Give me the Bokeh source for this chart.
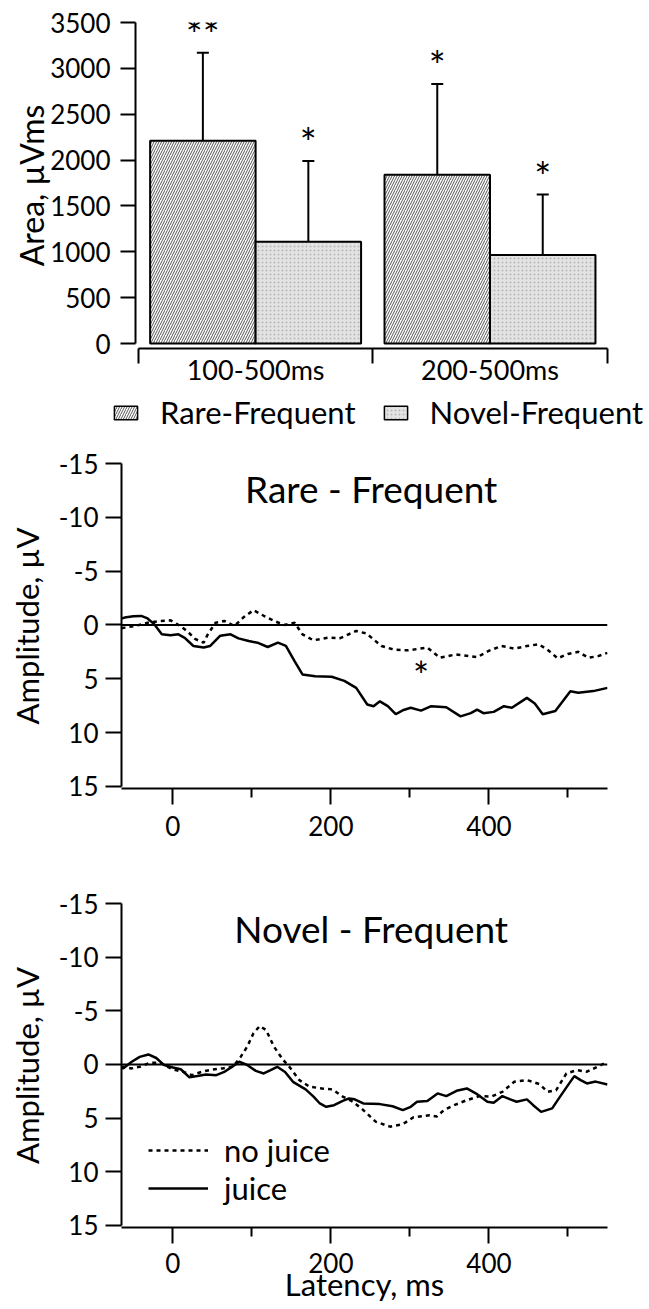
import numpy as np
from bokeh.plotting import figure
from bokeh.layouts import column
from bokeh.models import (Range1d, FixedTicker, Legend, LegendItem, Span, Label,
                          Whisker, TeeHead, ColumnDataSource)
from bokeh.core.properties import value
from bokeh.embed import file_html
from bokeh.resources import INLINE

FONT = "Lato"

# ---------------- data: bar chart ----------------
windows = ["100-500ms", "200-500ms"]
rare_area = [2210, 1840]
rare_err = [3170, 2830]
novel_area = [1110, 965]
novel_err = [1990, 1625]
rare_sig = ["**", "*"]
novel_sig = ["*", "*"]
area_ticks = [0, 500, 1000, 1500, 2000, 2500, 3000, 3500]

# ---------------- data: ERP waveforms ----------------
amp_ticks = [-15, -10, -5, 0, 5, 10, 15]
amp_tick_labels = ["-15", "-10", "-5", "0", "5", "10", "15"]
lat_major = [0, 200, 400]
lat_minor = [100, 300, 500]

rare_juice_t = [-65, -61, -50, -40, -32, -24, -14, -3, 7, 15, 26, 39, 47, 60, 73, 83, 96,
                107, 120, 133, 143, 154, 164, 180, 201, 217, 232, 246, 254, 262, 272, 282,
                292, 301, 314, 327, 346, 364, 377, 385, 393, 406, 419, 429, 448, 458, 468,
                484, 503, 513, 532, 550]
rare_juice_v = [-0.6, -0.68, -0.8, -0.84, -0.6, -0.1, 0.87, 0.95, 0.87, 1.2, 1.96, 2.1, 1.96,
                1.0, 0.87, 1.25, 1.5, 1.65, 2.05, 1.65, 1.95, 3.36, 4.6, 4.76, 4.82, 5.2,
                5.85, 7.4, 7.55, 7.1, 7.55, 8.3, 7.9, 7.7, 7.96, 7.55, 7.65, 8.5, 8.2, 7.87,
                8.2, 8.08, 7.55, 7.7, 6.78, 7.3, 8.3, 8.0, 6.16, 6.3, 6.15, 5.85]
rare_nojuice_t = [-65, -61, -48, -32, -16, -3, 7, 18, 28, 39, 44, 54, 65, 78, 89, 102, 115,
                  128, 141, 154, 164, 178, 196, 211, 232, 245, 264, 280, 298, 322, 338, 358,
                  385, 400, 416, 432, 448, 463, 474, 487, 500, 513, 526, 538, 550]
rare_nojuice_v = [0.3, 0.25, 0.1, -0.2, -0.37, -0.43, 0.0, 0.56, 1.3, 1.65, 0.9, -0.2, -0.37,
                  0.1, -0.68, -1.37, -0.85, -0.37, 0.0, -0.2, 0.87, 1.43, 1.18, 1.25, 0.56,
                  0.8, 1.96, 2.3, 2.36, 2.1, 3.05, 2.74, 3.0, 2.4, 1.96, 2.2, 1.96, 1.8, 2.3,
                  3.1, 2.7, 2.5, 3.05, 2.9, 2.6]
novel_juice_t = [-65, -63, -52, -42, -31, -21, -11, 0, 10, 21, 31, 42, 55, 65, 76, 84, 94,
                 105, 115, 123, 132, 142, 152, 168, 178, 186, 194, 204, 215, 223, 230, 241,
                 262, 278, 291, 301, 309, 322, 335, 346, 359, 372, 385, 398, 406, 417, 427,
                 435, 448, 456, 466, 480, 490, 500, 508, 516, 524, 535, 550]
novel_juice_v = [0.3, 0.37, -0.25, -0.7, -0.93, -0.6, 0.06, 0.28, 0.45, 1.2, 1.08, 0.93, 1.0,
                 0.7, 0.16, -0.25, 0.05, 0.6, 0.84, 0.55, 0.22, 0.7, 1.62, 2.33, 3.0, 3.64,
                 3.95, 3.8, 3.4, 3.17, 3.25, 3.64, 3.7, 3.9, 4.26, 3.95, 3.48, 3.4, 2.7, 2.95,
                 2.46, 2.24, 2.77, 3.48, 3.58, 2.95, 3.26, 3.48, 3.26, 3.8, 4.42, 4.1, 3.0,
                 1.93, 1.09, 1.46, 1.77, 1.6, 1.87]
novel_nojuice_t = [-65, -63, -52, -42, -29, -16, 0, 13, 24, 37, 50, 63, 76, 86, 94, 102, 110,
                   118, 128, 139, 149, 160, 173, 189, 202, 215, 228, 241, 257, 275, 291, 304,
                   325, 334, 343, 356, 372, 388, 403, 417, 432, 448, 464, 474, 485, 498, 511,
                   524, 537, 550]
novel_nojuice_v = [0.3, 0.22, 0.37, 0.22, -0.15, -0.15, 0.47, 0.68, 1.0, 0.68, 0.47, 0.37,
                   0.22, -0.72, -1.65, -2.9, -3.58, -3.2, -1.65, -0.47, 0.37, 1.46, 2.08,
                   2.24, 2.33, 3.0, 3.48, 4.26, 5.35, 5.8, 5.57, 4.94, 4.73, 4.85, 4.26, 3.8,
                   3.33, 2.95, 3.0, 2.55, 1.62, 1.46, 1.83, 2.55, 2.4, 0.84, 0.53, 0.68, 0.22,
                   -0.25]
rare_star = (314, 4.67)

W = 649


def style_axis(ax, tick_out=15):
    ax.axis_line_width = 2
    ax.axis_line_color = "black"
    ax.major_tick_line_width = 2
    ax.major_tick_line_color = "black"
    ax.major_tick_in = 0
    ax.major_tick_out = tick_out
    ax.minor_tick_line_color = None
    ax.major_label_text_font = FONT
    ax.major_label_text_font_size = "26px"
    ax.major_label_text_color = "black"
    ax.axis_label_text_font = FONT
    ax.axis_label_text_font_style = "normal"
    ax.axis_label_text_color = "black"


def base_fig(height, x_range, y_range, left, right, top, bottom, **kw):
    p = figure(width=W, height=height, x_range=x_range, y_range=y_range,
               output_backend="svg", toolbar_location=None, frame_align=False,
               min_border_left=left, min_border_right=right,
               min_border_top=top, min_border_bottom=bottom, **kw)
    p.outline_line_color = None
    p.grid.visible = False
    p.background_fill_color = "white"
    p.border_fill_color = "white"
    return p


# ================= Figure 1: bar chart =================
p1 = base_fig(392, Range1d(-0.0124, 2.0013), Range1d(-54, 3500), 135, 42, 22, 44)
centers = np.arange(len(windows)) + 0.5
bw = 0.45
rare_style = dict(fill_color="white", line_color="black", line_width=2,
                  hatch_pattern="right_diagonal_line", hatch_scale=5,
                  hatch_weight=1, hatch_color="#555555")
novel_style = dict(fill_color="#e3e3e3", line_color="black", line_width=2,
                   hatch_pattern="dot", hatch_scale=4, hatch_weight=1,
                   hatch_color="#b8b8b8")
src_r = ColumnDataSource(dict(x=centers - bw / 2, top=rare_area, err=rare_err))
src_n = ColumnDataSource(dict(x=centers + bw / 2, top=novel_area, err=novel_err))
p1.vbar(x="x", top="top", bottom=0, width=bw, source=src_r, **rare_style)
p1.vbar(x="x", top="top", bottom=0, width=bw, source=src_n, **novel_style)
for s in (src_r, src_n):
    p1.add_layout(Whisker(source=s, base="x", lower="top", upper="err",
                          dimension="height", line_width=2, line_color="black",
                          upper_head=TeeHead(size=12, line_width=2, line_color="black"),
                          lower_head=None))
# significance stars
star_off = 192
sig_src = ColumnDataSource(dict(
    x=list(centers - bw / 2) + list(centers + bw / 2),
    y=[e + star_off for e in rare_err] + [e + star_off for e in novel_err],
    t=rare_sig + novel_sig))
p1.text(x="x", y="y", text="t", source=sig_src, text_align="center",
        text_baseline="middle", text_font=value(FONT), text_font_size="40px",
        text_color="black")

style_axis(p1.yaxis[0], 15)
p1.yaxis.ticker = FixedTicker(ticks=area_ticks)
p1.yaxis.bounds = (0, 3500)
p1.yaxis.major_label_standoff = 10
p1.yaxis.axis_label = "Area, \u00b5Vms"
p1.yaxis.axis_label_text_font_size = "32px"
p1.yaxis.axis_label_standoff = -4

xa = p1.xaxis[0]
style_axis(xa, 0)
xa.major_label_text_font_size = "27px"
xa.ticker = FixedTicker(ticks=list(centers), minor_ticks=[0, 1, 2])
xa.major_label_overrides = {float(c): w for c, w in zip(centers, windows)}
xa.minor_tick_line_color = "black"
xa.minor_tick_line_width = 2
xa.minor_tick_in = 0
xa.minor_tick_out = 15
xa.major_tick_line_color = None
xa.bounds = (0, 2)
xa.major_label_standoff = -11

# ================= legend strip for the bar chart =================
pl = figure(width=W, height=48, x_range=Range1d(0, 1), y_range=Range1d(0, 1),
            output_backend="svg", toolbar_location=None, frame_align=False,
            x_axis_location=None, y_axis_location=None,
            min_border_left=0, min_border_right=0, min_border_top=0, min_border_bottom=0)
pl.outline_line_color = None
pl.grid.visible = False
# key swatches only: the renderers carry no drawable data, only the legend shows them
key_src = ColumnDataSource(dict(x=[float("nan")], top=[float("nan")]))
lr = pl.vbar(x="x", top="top", bottom=0, width=0.1, source=key_src, **rare_style)
ln = pl.vbar(x="x", top="top", bottom=0, width=0.1, source=key_src, **novel_style)
lr.glyph.line_width = 1.5
ln.glyph.line_width = 1.5
leg1 = Legend(items=[LegendItem(label="Rare-Frequent", renderers=[lr]),
                     LegendItem(label="Novel-Frequent", renderers=[ln])],
              orientation="horizontal", location=(111, 9),
              glyph_width=29, glyph_height=17, label_standoff=20, spacing=25,
              padding=0, margin=0, border_line_color=None, background_fill_alpha=0,
              label_text_font=FONT, label_text_font_size="31px",
              label_text_color="black")
pl.add_layout(leg1)


# ================= ERP figures =================
def erp_fig(height, top, bottom, title, j_t, j_v, n_t, n_v, xlabel=None, legend=False,
            star=None):
    p = base_fig(height, Range1d(-65, 550), Range1d(15.2, -15), 121, 42, top, bottom)
    p.add_layout(Span(location=0, dimension="width", line_color="black", line_width=2))
    rn = p.line(n_t, n_v, line_color="black", line_width=2.5, line_dash="4 4")
    rj = p.line(j_t, j_v, line_color="black", line_width=2.5)
    p.add_layout(Label(x=251, y=-12.65, text=title, text_align="center",
                       text_baseline="middle", text_font=FONT, text_font_size="37px",
                       text_color="black"))
    if star is not None:
        p.add_layout(Label(x=star[0], y=star[1], text="*", text_align="center",
                           text_baseline="middle", text_font=FONT,
                           text_font_size="38px", text_color="black"))
    ya = p.yaxis[0]
    style_axis(ya, 16)
    ya.ticker = FixedTicker(ticks=amp_ticks)
    ya.major_label_overrides = {t: s for t, s in zip(amp_ticks, amp_tick_labels)}
    ya.bounds = (-15, 15)
    ya.major_label_standoff = 7
    ya.axis_label = "Amplitude, \u00b5V"
    ya.axis_label_text_font_size = "31px"
    ya.axis_label_standoff = 10
    xa = p.xaxis[0]
    style_axis(xa, 16)
    xa.ticker = FixedTicker(ticks=lat_major, minor_ticks=lat_minor)
    xa.minor_tick_line_color = "black"
    xa.minor_tick_line_width = 2
    xa.minor_tick_in = 0
    xa.minor_tick_out = 9
    xa.major_label_standoff = 11
    if xlabel:
        xa.major_label_standoff = 9
        xa.axis_label = xlabel
        xa.axis_label_text_font_size = "31px"
        xa.axis_label_standoff = -11
    if legend:
        lg = Legend(items=[LegendItem(label="no juice", renderers=[rn]),
                           LegendItem(label="juice", renderers=[rj])],
                    location=(27, 20), glyph_width=60, glyph_height=20,
                    label_standoff=16, spacing=-3, padding=0, margin=0,
                    border_line_color=None, background_fill_alpha=0,
                    label_text_font=FONT, label_text_font_size="31px",
                    label_text_color="black")
        p.add_layout(lg)
    return p


p2 = erp_fig(405, 23, 57, "Rare - Frequent", rare_juice_t, rare_juice_v,
             rare_nojuice_t, rare_nojuice_v, star=rare_star)
p3 = erp_fig(464, 58, 82, "Novel - Frequent", novel_juice_t, novel_juice_v,
             novel_nojuice_t, novel_nojuice_v, xlabel="Latency, ms", legend=True)

layout = column(p1, pl, p2, p3, spacing=0)
open("out.html", "w").write(file_html(layout, INLINE))
